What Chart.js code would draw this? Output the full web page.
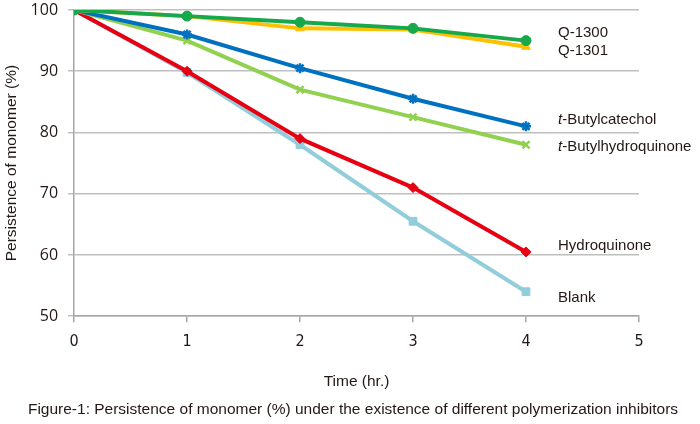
<!DOCTYPE html>
<html>
<head>
<meta charset="utf-8">
<script src="https://cdn.jsdelivr.net/npm/chart.js@4"></script>
<style>
  html, body { margin: 0; padding: 0; background: #fff; }
  #wrap { width: 700px; height: 424px; }
</style>
</head>
<body>
<div id="wrap"><canvas id="chart" width="700" height="424"></canvas></div>
<script>
// time points (hr.)
const hours = [0, 1, 2, 3, 4]

// persistence of monomer (%)
const q1300 = [100, 99, 98, 97, 95]
const q1301 = [100, 99, 97, 96.8, 94]
const butylcatechol = [100, 96, 90.5, 85.5, 81]
const butylhydroquinone = [100, 95, 87, 82.5, 78]
const hydroquinone = [100, 90, 79, 71, 60.5]
const blank = [100, 89.8, 78, 65.5, 54]

// names next to the line ends (italic prefix kept apart)
const seriesNames = ['Q-1300', 'Q-1301', '-Butylcatechol', '-Butylhydroquinone', 'Hydroquinone', 'Blank']
const italicPrefix = ['', '', 't', 't', '', '']
// value the name sits at on the y axis
const nameAt = [96.2, 93.4, 82, 77.7, 61.5, 53]

const caption = 'Figure-1: Persistence of monomer (%) under the existence of different polymerization inhibitors'

const colors = ['#17A84B', '#FFC000', '#0070C0', '#92D050', '#E60012', '#92CDDC']
const markers = ['circle', 'triangle', 'star', 'crossRot', 'rectRot', 'rect']
const series = [q1300, q1301, butylcatechol, butylhydroquinone, hydroquinone, blank]

const FONT = '"Liberation Sans", Arial, sans-serif'
const TICKS = '"Open Sans", "Liberation Sans", sans-serif'
const NARROW = '"DejaVu Sans Condensed", "Liberation Sans", sans-serif'

const endLabels = {
  id: 'endLabels',
  afterDatasetsDraw(chart) {
    const ctx = chart.ctx
    const x = chart.scales.x.getPixelForValue(hours[hours.length - 1]) + 32
    ctx.save()
    ctx.fillStyle = '#231815'
    ctx.textBaseline = 'middle'
    seriesNames.forEach((name, i) => {
      const y = chart.scales.y.getPixelForValue(nameAt[i])
      let dx = 0
      if (italicPrefix[i]) {
        ctx.font = 'italic 15px ' + FONT
        ctx.fillText(italicPrefix[i], x, y)
        dx = ctx.measureText(italicPrefix[i]).width
      }
      ctx.font = '15px ' + FONT
      ctx.fillText(name, x + dx, y)
    })
    // figure caption, centred on the whole canvas
    ctx.font = '15.5px ' + FONT
    ctx.textAlign = 'center'
    ctx.fillText(caption, chart.width / 2 + 3, chart.height - 14)
    ctx.restore()
  }
}

new Chart(document.getElementById('chart'), {
  type: 'line',
  data: {
    datasets: series.map((vals, i) => ({
      label: (italicPrefix[i] || '') + seriesNames[i],
      data: hours.map((h, j) => ({ x: h, y: vals[j] })),
      borderColor: colors[i],
      backgroundColor: colors[i],
      borderWidth: 4,
      pointStyle: markers[i],
      pointRadius: markers[i] === 'rect' ? 5.5 : 5,
      pointBorderWidth: markers[i] === 'star' || markers[i] === 'crossRot' ? 2.5 : 1,
      tension: 0
    }))
  },
  options: {
    responsive: false,
    animation: false,
    layout: { padding: { left: 0, right: 61, top: 10, bottom: 33 } },
    plugins: {
      legend: { display: false },
      tooltip: { enabled: false }
    },
    scales: {
      x: {
        type: 'linear',
        min: 0,
        max: 5,
        ticks: { stepSize: 1, color: '#231815', font: { family: NARROW, size: 16 }, padding: 10 },
        grid: { drawOnChartArea: false, color: '#a6a6a6', lineWidth: 1.5, tickLength: 6 },
        border: { color: '#a6a6a6', width: 1.5 },
        title: {
          display: true,
          text: 'Time (hr.)',
          color: '#231815',
          font: { family: FONT, size: 15.5 },
          padding: { top: 11, bottom: 0 }
        }
      },
      y: {
        min: 50,
        max: 100,
        // top label may sit right at the canvas edge
        afterFit: (scale) => { scale.paddingTop = 0 },
        ticks: { stepSize: 10, color: '#231815', font: { family: TICKS, size: 16 }, padding: 10 },
        grid: { color: '#bfbfbf', lineWidth: 1.5, tickLength: 6 },
        border: { color: '#a6a6a6', width: 1.5 },
        title: {
          display: true,
          text: 'Persistence of monomer (%)',
          color: '#231815',
          font: { family: FONT, size: 15.5 },
          padding: { top: 2, bottom: 0 }
        }
      }
    }
  },
  plugins: [endLabels]
})
</script>
</body>
</html>
